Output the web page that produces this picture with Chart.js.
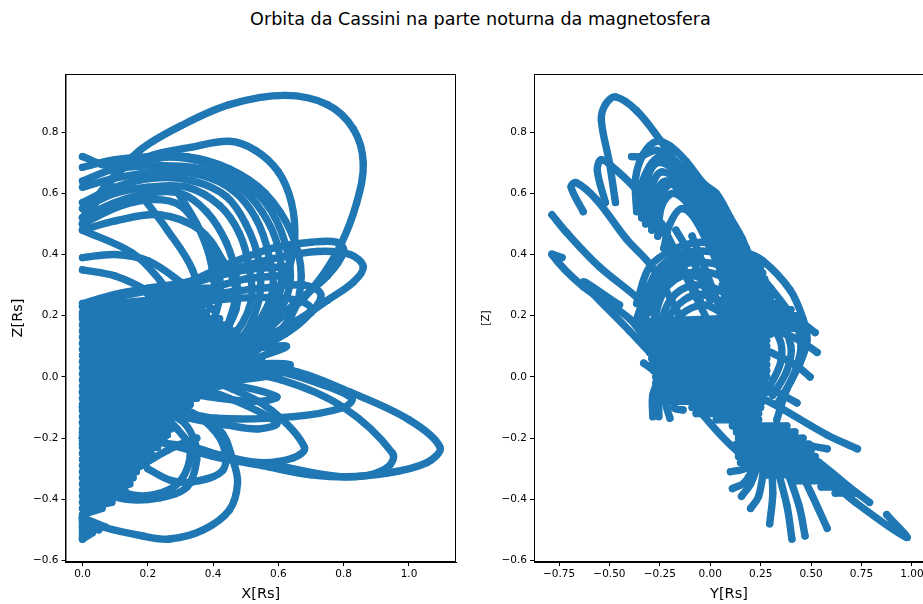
<!DOCTYPE html>
<html lang="en">
<head>
  <meta charset="UTF-8" />
  <title>Orbita da Cassini</title>
  <script src="https://cdn.jsdelivr.net/npm/chart.js"></script>
  <style>
    body {
      background: #fff;
      margin: 0;
      width: 923px;
      height: 604px;
      overflow: hidden;
      position: relative;
      font-family: "DejaVu Sans", sans-serif;
    }

    h1 {
      position: absolute;
      left: 0;
      top: 8px;
      width: 961px;
      margin: 0;
      text-align: center;
      font-size: 17.6px;
      line-height: 22px;
      font-weight: normal;
      color: #000;
    }

    canvas {
      position: absolute;
      top: 0;
    }

    #chart-xz { left: 0; }
    #chart-yz { left: 470px; }
  </style>
</head>
<body>
  <h1>Orbita da Cassini na parte noturna da magnetosfera</h1>
  <canvas id="chart-xz" width="462" height="604"></canvas>
  <canvas id="chart-yz" width="460" height="604"></canvas>

  <script>
    const xTicks = [0, 0.2, 0.4, 0.6, 0.8, 1.0];
    const yTicks = [-0.75, -0.5, -0.25, 0, 0.25, 0.5, 0.75, 1.0];
    const zTicks = [-0.6, -0.4, -0.2, 0, 0.2, 0.4, 0.6, 0.8];

    // left panel, [X, Z]
    const xzOuter = [[0,.5],[.08,.63],[.175,.74],[.3,.82],[.45,.89],[.62,.92],[.75,.89],[.83,.81],[.86,.7],[.84,.57],[.79,.43],[.72,.31],[.64,.22],[.5,.12],[.35,.05],[.2,0],[0,-.05]];
    const xzSecond = [[0,.52],[.1,.66],[.2,.72],[.33,.75],[.45,.77],[.53,.74],[.6,.67],[.64,.57],[.65,.45],[.63,.35],[.57,.22],[.45,.1],[.3,.02],[.1,-.1],[0,-.15]];
    const xzArc1 = [[0,.72],[.08,.69],[.2,.71],[.32,.72],[.45,.68],[.56,.6],[.64,.47],[.67,.33],[.64,.2],[.55,.1],[.4,0],[.2,-.1],[0,-.22]];
    const xzArc2 = [[0,.685],[.1,.71],[.22,.72],[.34,.71],[.46,.66],[.56,.57],[.62,.44],[.635,.3],[.58,.18],[.45,.06],[.25,-.05],[0,-.2]];
    const xzArc3 = [[0,.64],[.1,.68],[.24,.69],[.36,.68],[.47,.63],[.55,.54],[.6,.42],[.605,.28],[.55,.16],[.42,.05],[.2,-.07],[0,-.2]];
    const xzArc4 = [[0,.62],[.1,.65],[.24,.67],[.36,.66],[.46,.61],[.53,.52],[.57,.4],[.58,.27],[.5,.13],[.35,.02],[.15,-.1],[0,-.2]];
    const xzArc5 = [[0,.57],[.1,.62],[.22,.65],[.34,.64],[.44,.59],[.5,.5],[.54,.38],[.54,.25],[.48,.12],[.3,0]];
    const xzArc6 = [[0,.55],[.1,.6],[.2,.62],[.32,.62],[.42,.56],[.48,.47],[.51,.36],[.515,.24],[.45,.12],[.3,0]];
    const xzArc7 = [[0,.52],[.1,.57],[.2,.6],[.3,.6],[.38,.54],[.44,.44],[.47,.33],[.47,.22],[.4,.08]];
    const xzArc8 = [[0,.5],[.12,.56],[.22,.58],[.3,.56],[.36,.48],[.41,.38],[.42,.26],[.38,.12]];
    const xzArc9 = [[0,.48],[.1,.51],[.236,.53],[.36,.48],[.43,.38],[.47,.28],[.44,.15]];
    const xzArc10 = [[.175,.6],[.26,.48],[.337,.35],[.37,.2]];
    const xzArc11 = [[.288,.61],[.35,.5],[.39,.39],[.41,.25]];
    const xzFall1 = [[0,.48],[.153,.405],[.236,.317],[.3,.22]];
    const xzFall2 = [[0,.39],[.1,.4],[.2,.38],[.3,.31],[.4,.22]];
    const xzFall3 = [[0,.35],[.1,.33],[.2,.28],[.3,.2]];
    const xzHigh1 = [[0,.24],[.1,.27],[.2,.29],[.32,.31],[.45,.35],[.6,.39],[.72,.41],[.82,.4],[.86,.36],[.83,.31],[.75,.25],[.65,.18],[.5,.1],[.3,.03],[.1,-.05],[0,-.1]];
    const xzHigh2 = [[0,.23],[.1,.26],[.2,.28],[.3,.3],[.45,.37],[.58,.42],[.7,.44],[.78,.44],[.8,.41],[.75,.33],[.65,.24],[.55,.14],[.4,.05],[.2,-.05]];
    const xzHigh3 = [[0,.2],[.2,.24],[.4,.27],[.55,.29],[.68,.3],[.73,.27],[.7,.21],[.6,.13],[.45,.06],[.2,-.03],[0,-.1]];
    const xzHigh4 = [[.2,.22],[.4,.25],[.55,.26],[.66,.25],[.7,.22],[.62,.14],[.45,.05]];
    const xzHigh5 = [[.2,.25],[.35,.31],[.5,.35],[.62,.36]];
    const xzHigh6 = [[.25,.2],[.38,.28],[.5,.32],[.6,.33]];
    const xzStub1 = [[.3,.06],[.5,.09],[.625,.1],[.5,.05]];
    const xzStub2 = [[.3,.02],[.5,.04],[.635,.04],[.6,.01],[.4,-.02]];
    const xzLow1 = [[.4,.05],[.645,.02],[.82,-.05],[1,-.14],[1.095,-.23],[1.055,-.28],[.93,-.315],[.78,-.325],[.595,-.29],[.46,-.27],[.34,-.23],[.1,-.2],[0,-.18]];
    const xzLow2 = [[.4,.03],[.61,-.01],[.8,-.1],[.95,-.25],[.935,-.295],[.85,-.325],[.7,-.32],[.55,-.29],[.4,-.26],[.2,-.2]];
    const xzLow3 = [[.3,.05],[.59,.02],[.72,-.02],[.825,-.07],[.8,-.1],[.645,-.13],[.41,-.135],[.25,-.1]];
    const xzLow4 = [[.3,.02],[.46,-.04],[.58,-.11],[.68,-.23],[.645,-.265],[.54,-.28],[.42,-.255],[.3,-.22]];
    const xzLow5 = [[.3,-.02],[.45,-.07],[.595,-.15],[.54,-.17],[.44,-.157],[.3,-.13]];
    const xzLow6 = [[.3,0],[.48,-.03],[.595,-.065],[.54,-.08],[.42,-.07],[.3,-.05]];
    const xzLow7 = [[0,-.46],[.06,-.49],[.185,-.52],[.267,-.53],[.37,-.5],[.45,-.435],[.475,-.347],[.46,-.27],[.42,-.173],[.3,-.1],[.2,-.05]];
    const xzLow8 = [[.2,-.06],[.3,-.1],[.37,-.14],[.43,-.22],[.43,-.305],[.337,-.343],[.267,-.337],[.2,-.3]];
    const xzLow9 = [[.2,-.1],[.3,-.14],[.34,-.2],[.35,-.27],[.32,-.36],[.236,-.395],[.135,-.4],[.04,-.37]];
    const xzLow10 = [[.2,-.08],[.29,-.17],[.33,-.24],[.3,-.34],[.22,-.385],[.13,-.38],[.05,-.33]];
    const xzLow11 = [[.35,-.2],[.26,-.24],[.18,-.29],[.13,-.32]];
    const xzCore = [[.3,.29],[.42,.29],[.2,.27],[.4,.27],[0,.23],[.35,.23],[0,.21],[.38,.21],[0,.19],[.42,.19],[0,.17],[.45,.17],[0,.15],[.47,.15],[0,.13],[.48,.13],[0,.11],[.49,.11],[0,.09],[.5,.09],[0,.07],[.52,.07],[0,.05],[.55,.05],[0,.03],[.55,.03],[0,.01],[.52,.01],[0,-.01],[.46,-.01],[0,-.03],[.42,-.03],[0,-.05],[.38,-.05],[0,-.07],[.35,-.07],[0,-.09],[.33,-.09],[0,-.11],[.3,-.11],[0,-.13],[.28,-.13],[0,-.15],[.27,-.15],[0,-.17],[.27,-.17],[0,-.19],[.26,-.19],[0,-.21],[.25,-.21],[0,-.23],[.23,-.23],[0,-.25],[.21,-.25],[0,-.27],[.19,-.27],[0,-.29],[.18,-.29],[0,-.31],[.165,-.31],[0,-.33],[.155,-.33],[0,-.35],[.145,-.35],[0,-.37],[.13,-.37],[0,-.39],[.115,-.39],[0,-.41],[.09,-.41],[0,-.43],[.06,-.43],[0,-.45],[0,-.53]];
    const xzTip = [[0,-.46],[.07,-.49],[0,-.47],[.05,-.5],[0,-.49],[.03,-.51],[0,-.53]];

    // right panel, [Y, Z]
    const yzTop1 = [[-.47,.57],[-.5,.7],[-.54,.84],[-.52,.89],[-.47,.915],[-.365,.87],[-.25,.775],[-.12,.65],[.02,.5],[.12,.35],[.2,.15]];
    const yzTop2 = [[-.52,.57],[-.56,.675],[-.54,.71],[-.465,.675],[-.365,.61],[-.25,.5],[-.1,.3],[.05,.1]];
    const yzTop3 = [[-.63,.54],[-.69,.62],[-.665,.635],[-.565,.58],[-.415,.45],[-.29,.36],[-.15,.2]];
    const yzBlade1 = [[-.785,.53],[-.71,.47],[-.55,.36],[-.365,.26],[-.2,.15]];
    const yzBlade2 = [[-.735,.39],[-.785,.4],[-.63,.295],[-.4,.19],[-.3,.1],[-.085,-.085],[.13,-.24],[.3,-.3]];
    const yzBlade3 = [[-.45,.235],[-.63,.31],[-.4,.15],[-.3,.08]];
    const yzDome1 = [[-.365,.54],[-.37,.65],[-.33,.73],[-.265,.77],[-.2,.755],[-.12,.705],[-.03,.63],[.03,.6],[.1,.52],[.16,.45],[.2,.38],[.25,.25]];
    const yzDome2 = [[-.39,.72],[-.35,.72],[-.26,.74],[-.13,.68],[.02,.55],[.15,.4],[.25,.2]];
    const yzDome3 = [[-.32,.5],[-.33,.6],[-.26,.7],[-.12,.64],[.03,.5],[.14,.35]];
    const yzDome4 = [[-.29,.48],[-.28,.58],[-.22,.64],[-.1,.58],[.02,.45],[.1,.3]];
    const yzDome5 = [[-.26,.46],[-.24,.56],[-.18,.6],[-.08,.54],[.04,.4]];
    const yzDome6 = [[-.23,.42],[-.2,.5],[-.14,.55],[-.06,.5],[.05,.35]];
    const yzDome7 = [[-.34,.52],[-.34,.63],[-.25,.72],[-.12,.67],[0,.55]];
    const yzDome8 = [[-.3,.5],[-.3,.6],[-.24,.67],[-.12,.61],[-.02,.5],[.08,.35]];
    const yzDome9 = [[-.25,.47],[-.25,.58],[-.19,.63],[-.1,.55],[0,.42]];
    const yzFall1 = [[-.24,.5],[-.15,.38],[-.05,.25]];
    const yzFall2 = [[-.17,.48],[-.1,.4],[0,.25]];
    const yzFall3 = [[-.09,.46],[-.03,.36],[.05,.22]];
    const yzRound1 = [[-.365,.24],[-.3,.36],[-.17,.42],[-.035,.44],[.165,.41],[.26,.38],[.395,.285],[.46,.19],[.48,.12],[.445,.045],[.38,-.04],[.33,-.14]];
    const yzRound2 = [[-.35,.2],[-.27,.34],[-.15,.4],[0,.41],[.17,.38],[.3,.29],[.42,.18],[.45,.1],[.41,0],[.34,-.08]];
    const yzRound3 = [[-.34,.16],[-.25,.31],[-.12,.37],[.02,.37],[.18,.33],[.32,.22],[.4,.1],[.38,.02],[.31,-.06]];
    const yzRound4 = [[-.3,.12],[-.23,.28],[-.1,.34],[.05,.33],[.2,.26],[.34,.13],[.35,.05],[.28,-.05]];
    const yzRound5 = [[-.28,.1],[-.2,.25],[-.08,.3],[.08,.27],[.18,.18]];
    const yzRound6 = [[-.26,.1],[-.18,.22],[-.06,.27],[.08,.24]];
    const yzRound7 = [[-.24,.1],[-.15,.2],[-.03,.235],[.08,.2]];
    const yzRound8 = [[-.37,.18],[-.3,.3],[-.2,.37],[-.05,.39]];
    const yzRound9 = [[-.32,.2],[-.26,.27],[-.16,.34],[-.03,.32]];
    const yzStub1 = [[.3,.2],[.42,.19],[.52,.145]];
    const yzStub2 = [[.3,.16],[.44,.12],[.53,.08]];
    const yzStub3 = [[.3,.08],[.42,.04],[.495,0]];
    const yzStub4 = [[.3,-.04],[.36,-.06],[.43,-.085]];
    const yzRay1 = [[.2,-.05],[.345,-.1],[.58,-.19],[.73,-.235]];
    const yzRay2 = [[.2,-.15],[.36,-.195],[.5,-.225],[.58,-.235]];
    const yzRay3 = [[.2,-.2],[.48,-.28],[.72,-.41],[.975,-.525],[.875,-.45]];
    const yzRay4 = [[.3,-.17],[.56,-.29],[.69,-.36],[.79,-.41]];
    const yzFan1 = [[.1,-.31],[.17,-.3],[.22,-.27]];
    const yzFan2 = [[.11,-.365],[.17,-.345],[.22,-.29]];
    const yzFan3 = [[.155,-.39],[.2,-.35],[.24,-.28]];
    const yzFan4 = [[.2,-.43],[.24,-.39],[.27,-.28]];
    const yzFan5 = [[.295,-.48],[.31,-.38],[.3,-.27]];
    const yzFan6 = [[.405,-.53],[.38,-.42],[.32,-.27]];
    const yzFan7 = [[.47,-.52],[.44,-.42],[.36,-.27]];
    const yzFan8 = [[.58,-.495],[.5,-.38],[.42,-.27]];
    const yzLeft1 = [[-.33,.045],[-.265,.015],[-.2,0]];
    const yzLeft2 = [[-.285,-.13],[-.285,-.06],[-.25,0]];
    const yzLeft3 = [[-.255,-.13],[-.25,-.06],[-.2,0]];
    const yzLeft4 = [[-.2,-.135],[-.22,-.08],[-.18,0]];
    const yzLeft5 = [[-.135,-.108],[-.18,-.1],[-.15,-.03]];
    const yzLeft6 = [[-.035,-.035],[.115,-.15],[.2,-.2]];
    const yzBody = [[-.12,.66],[-.07,.66],[-.1,.64],[-.05,.64],[-.09,.62],[-.02,.62],[-.09,.6],[.01,.6],[-.08,.58],[.03,.58],[-.07,.56],[.05,.56],[-.06,.54],[.07,.54],[-.06,.52],[.09,.52],[-.05,.5],[.11,.5],[-.03,.48],[.12,.48],[-.02,.46],[.14,.46],[0,.44],[.16,.44],[.02,.42],[.18,.42],[.03,.4],[.2,.4],[.04,.38],[.23,.38],[.05,.36],[.25,.36],[.05,.34],[.26,.34],[.06,.32],[.27,.32],[.06,.3],[.28,.3],[.06,.28],[.29,.28],[.07,.26],[.3,.26],[.07,.24],[.33,.24],[.08,.22],[.4,.22],[.05,.2],[.44,.2],[-.38,.18],[.46,.18],[-.34,.16],[.45,.16],[-.32,.14],[.3,.14],[-.31,.12],[.28,.12],[-.3,.1],[.28,.1],[-.3,.08],[.28,.08],[-.29,.06],[.28,.06],[-.29,.04],[.28,.04],[-.28,.02],[.28,.02],[-.27,0],[.28,0],[-.27,-.02],[.27,-.02],[-.27,-.04],[.27,-.04],[-.28,-.06],[.26,-.06],[-.28,-.08],[.26,-.08],[-.09,-.1],[.25,-.1],[-.07,-.12],[.24,-.12],[.03,-.14],[.24,-.14],[.11,-.16],[.38,-.16],[.13,-.18],[.42,-.18],[.14,-.2],[.46,-.2],[.13,-.22],[.49,-.22],[.14,-.24],[.5,-.24],[.14,-.26],[.52,-.26],[.15,-.28],[.54,-.28],[.2,-.3],[.55,-.3],[.28,-.32],[.58,-.32],[.42,-.34],[.63,-.34],[.55,-.36],[.67,-.36],[.62,-.38],[.72,-.38]];

    const xzOrbits = [xzCore, xzTip, xzOuter, xzSecond, xzArc1, xzArc2, xzArc3, xzArc4, xzArc5, xzArc6, xzArc7, xzArc8, xzArc9, xzArc10, xzArc11, xzFall1, xzFall2, xzFall3, xzHigh1, xzHigh2, xzHigh3, xzHigh4, xzHigh5, xzHigh6, xzStub1, xzStub2, xzLow1, xzLow2, xzLow3, xzLow4, xzLow5, xzLow6, xzLow7, xzLow8, xzLow9, xzLow10, xzLow11];
    const yzOrbits = [yzBody, yzTop1, yzTop2, yzTop3, yzBlade1, yzBlade2, yzBlade3, yzDome1, yzDome2, yzDome3, yzDome4, yzDome5, yzDome6, yzDome7, yzDome8, yzDome9, yzFall1, yzFall2, yzFall3, yzRound1, yzRound2, yzRound3, yzRound4, yzRound5, yzRound6, yzRound7, yzRound8, yzRound9, yzStub1, yzStub2, yzStub3, yzStub4, yzRay1, yzRay2, yzRay3, yzRay4, yzFan1, yzFan2, yzFan3, yzFan4, yzFan5, yzFan6, yzFan7, yzFan8, yzLeft1, yzLeft2, yzLeft3, yzLeft4, yzLeft5, yzLeft6];
    const straightOrbits = [xzCore, xzTip, yzBody];

    const blue = "#1f77b4";
    const frame = {
      id: "frame",
      afterDatasetsDraw(chart) {
        const a = chart.chartArea;
        const ctx = chart.ctx;
        ctx.save();
        ctx.strokeStyle = "#000";
        ctx.lineWidth = 1;
        ctx.strokeRect(a.left + 0.5, a.top + 0.5, a.width - 1, a.height - 1);
        ctx.restore();
      }
    };

    function makeChart(id, orbits, hTicks, hMin, hMax, hTitle, hDigits, vTitle, vSize, axisWidth) {
      new Chart(document.getElementById(id), {
        type: "scatter",
        data: {
          datasets: orbits.map(o => ({
            data: o.map(p => ({ x: p[0], y: p[1] })),
            showLine: true,
            tension: straightOrbits.includes(o) ? 0 : 0.35,
            borderColor: blue,
            borderWidth: 7.4,
            borderCapStyle: "round",
            borderJoinStyle: "round",
            pointRadius: 3.6,
            pointBackgroundColor: blue,
            pointBorderWidth: 0
          }))
        },
        plugins: [frame],
        options: {
          responsive: false,
          animation: false,
          layout: { padding: { top: 74, right: 6, left: 0, bottom: 0 } },
          plugins: { legend: { display: false }, tooltip: { enabled: false } },
          scales: {
            x: {
              type: "linear",
              min: hMin,
              max: hMax,
              afterBuildTicks: s => { s.ticks = hTicks.map(v => ({ value: v })); },
              afterFit: s => { s.height = 42; },
              grid: { drawOnChartArea: false, drawTicks: true, tickLength: 4, tickColor: "#000" },
              border: { color: "#000" },
              ticks: {
                color: "#000",
                maxRotation: 0,
                autoSkip: false,
                padding: 2,
                font: { family: "DejaVu Sans", size: 10.5 },
                callback: v => v.toFixed(hDigits).replace("-", "\u2212")
              },
              title: {
                display: true,
                text: hTitle,
                color: "#000",
                font: { family: "DejaVu Sans", size: 14.5 },
                padding: { top: 0, bottom: 1 }
              }
            },
            y: {
              type: "linear",
              min: -0.605,
              max: 0.99,
              afterBuildTicks: s => { s.ticks = zTicks.map(v => ({ value: v })); },
              afterFit: s => { s.width = axisWidth; },
              grid: { drawOnChartArea: false, drawTicks: true, tickLength: 4, tickColor: "#000" },
              border: { color: "#000" },
              ticks: {
                color: "#000",
                autoSkip: false,
                padding: 3,
                font: { family: "DejaVu Sans", size: 10.5 },
                callback: v => v.toFixed(1).replace("-", "\u2212")
              },
              title: {
                display: true,
                text: vTitle,
                color: "#000",
                font: { family: "DejaVu Sans", size: vSize },
                padding: { top: 10, bottom: 0 }
              }
            }
          }
        }
      });
    }

    makeChart("chart-xz", xzOrbits, xTicks, -0.052, 1.144, "X[Rs]", 1, "Z[Rs]", 14.5, 65.5);
    makeChart("chart-yz", yzOrbits, yTicks, -0.874, 1.06, "Y[Rs]", 2, "[Z]", 10.5, 64);
  </script>
</body>
</html>
